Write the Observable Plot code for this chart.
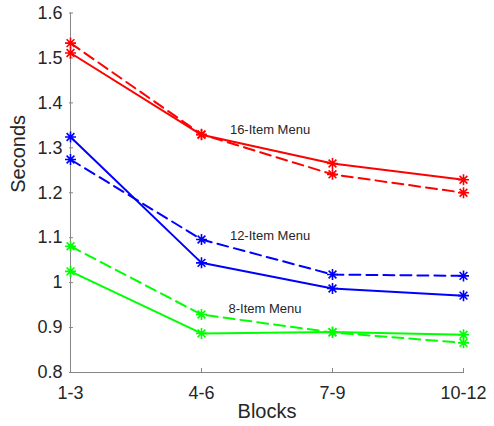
<!DOCTYPE html>
<html>
<head>
<meta charset="utf-8">
<script src="https://cdn.jsdelivr.net/npm/d3@7"></script>
<script src="https://cdn.jsdelivr.net/npm/@observablehq/plot@0.6"></script>
<style>
  html, body { margin: 0; padding: 0; background: #fff; }
  svg { display: block; }
</style>
</head>
<body>
<div id="chart"></div>
<script>
// ---- data ----
const blocks = ["1-3", "4-6", "7-9", "10-12"];
const yTicks = [0.8, 0.9, 1.0, 1.1, 1.2, 1.3, 1.4, 1.5, 1.6];

const menu16Solid  = [1.511, 1.329, 1.265, 1.229];
const menu16Dashed = [1.533, 1.330, 1.241, 1.200];
const menu12Solid  = [1.324, 1.044, 0.987, 0.971];
const menu12Dashed = [1.274, 1.096, 1.018, 1.015];
const menu8Solid   = [1.025, 0.887, 0.890, 0.884];
const menu8Dashed  = [1.081, 0.929, 0.889, 0.866];

const annotText = ["16-Item Menu", "12-Item Menu", "8-Item Menu"];
const annotX    = ["4-6", "4-6", "4-6"];
const annotY    = [1.340, 1.105, 0.942];

const xLabel = "Blocks";
const yLabel = "Seconds";

// ---- build tables ----
const series = [
  {name: "16 solid", values: menu16Solid, color: "#ff0000", dashed: false},
  {name: "16 dashed", values: menu16Dashed, color: "#ff0000", dashed: true},
  {name: "12 solid", values: menu12Solid, color: "#0000ff", dashed: false},
  {name: "12 dashed", values: menu12Dashed, color: "#0000ff", dashed: true},
  {name: "8 solid", values: menu8Solid, color: "#00ff00", dashed: false},
  {name: "8 dashed", values: menu8Dashed, color: "#00ff00", dashed: true}
];
const rowsOf = s => blocks.map((b, i) => ({block: b, value: s.values[i]}));
const annots = annotText.map((t, i) => ({text: t, x: annotX[i], y: annotY[i]}));

const asterisk = {
  draw(ctx, size) {
    const r = Math.sqrt(size / Math.PI);
    const d = r * Math.SQRT1_2;
    ctx.moveTo(-r, 0); ctx.lineTo(r, 0);
    ctx.moveTo(0, -r); ctx.lineTo(0, r);
    ctx.moveTo(-d, -d); ctx.lineTo(d, d);
    ctx.moveTo(-d, d); ctx.lineTo(d, -d);
  }
};

const textColor = "#262626";
const axisColor = "#868686";

const marks = [
  Plot.ruleX([blocks[0]], {stroke: axisColor, strokeWidth: 1}),
  Plot.ruleY([yTicks[0]], {stroke: axisColor, strokeWidth: 1}),
  Plot.axisY({ticks: yTicks, tickSize: -4, tickPadding: 11, tickFormat: d => String(+d.toFixed(1)),
    fontSize: 18, color: textColor, stroke: axisColor, label: null}),
  Plot.axisX({tickSize: -4, tickPadding: 18, fontSize: 18, color: textColor, stroke: axisColor, label: null}),
  Plot.text([xLabel], {frameAnchor: "bottom", dy: 45, fontSize: 20, fill: textColor}),
  Plot.text([yLabel], {frameAnchor: "left", dx: -51, rotate: -90, fontSize: 20, fill: textColor})
];

for (const s of series) {
  const rows = rowsOf(s);
  marks.push(Plot.line(rows, {x: "block", y: "value", stroke: s.color, strokeWidth: 2,
    strokeDasharray: s.dashed ? "11,6" : null}));
  marks.push(Plot.dot(rows, {x: "block", y: "value", symbol: asterisk, r: 5.5, stroke: s.color,
    strokeWidth: 1.6, fill: "none"}));
}

marks.push(Plot.text(annots.filter(a => a.text !== annotText[2]), {x: "x", y: "y", text: "text",
  dx: 68.5, fontSize: 13, fill: textColor}));
marks.push(Plot.text(annots.filter(a => a.text === annotText[2]), {x: "x", y: "y", text: "text",
  dx: 63.5, fontSize: 13, fill: textColor}));

const chart = Plot.plot({
  width: 494,
  height: 426,
  marginLeft: 69,
  marginRight: 30,
  marginTop: 12.5,
  marginBottom: 54,
  style: {fontFamily: "'Liberation Sans', Arial, Helvetica, sans-serif", background: "#fff"},
  x: {type: "point", domain: blocks, padding: 0},
  y: {domain: [0.8, 1.6]},
  marks
});
document.getElementById("chart").appendChild(chart);
</script>
</body>
</html>
